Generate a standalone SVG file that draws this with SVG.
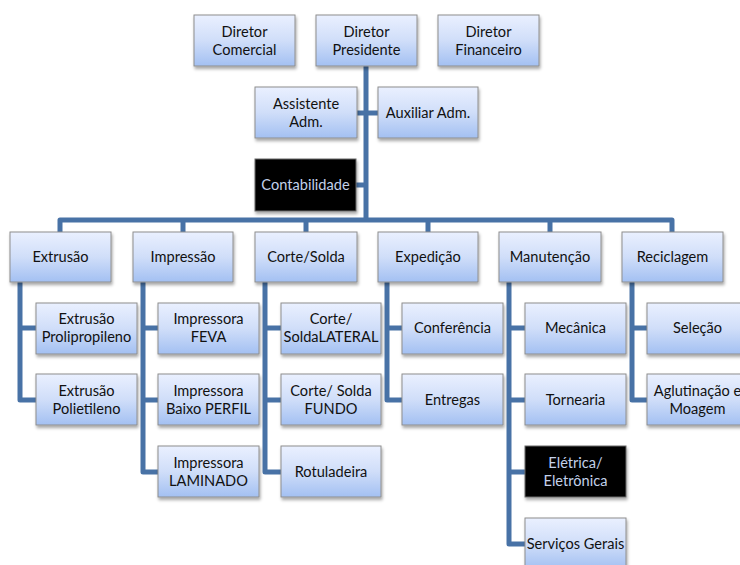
<svg xmlns="http://www.w3.org/2000/svg" width="740" height="565" viewBox="0 0 740 565">
<defs>
<linearGradient id="g" x1="0" y1="0" x2="0" y2="1">
<stop offset="0" stop-color="#eaf0ff"/>
<stop offset="0.5" stop-color="#d0def9"/>
<stop offset="1" stop-color="#a3c0f2"/>
</linearGradient>
<filter id="sh" x="-10%" y="-10%" width="130%" height="140%">
<feDropShadow dx="1" dy="2.5" stdDeviation="1.5" flood-color="#000" flood-opacity="0.35"/>
</filter>
<style>
.b{fill:url(#g);stroke:#8e8e8e;stroke-width:1;filter:url(#sh)}
.k{fill:#000;stroke:#6a6a6a;stroke-width:1;filter:url(#sh)}
text{font-family:Lato,"Open Sans","Liberation Sans",sans-serif;font-size:14.6px;text-anchor:middle;fill:#111}
.w{fill:#c3d1ea}
.c{fill:none;stroke:#4872a6;stroke-width:5;stroke-linejoin:round;stroke-linecap:butt}
</style>
</defs>
<rect width="740" height="565" fill="#fff"/>
<g id="connectors" class="c">
<path d="M366,66 V220"/>
<path d="M357,113 H378"/>
<path d="M356,185 H366"/>
<path d="M60,232 V220 H672 V232"/>
<path d="M183,220 V232 M306,220 V232 M428,220 V232 M550,220 V232"/>
<path d="M20,282 V400 H36 M20,328 H36"/>
<path d="M143,282 V472 H158 M143,328 H158 M143,400 H158"/>
<path d="M265,282 V472 H281 M265,328 H281 M265,400 H281"/>
<path d="M387,282 V400 H402 M387,328 H402"/>
<path d="M509,282 V544 H525 M509,328 H525 M509,400 H525 M509,472 H525"/>
<path d="M632,282 V400 H647 M632,328 H647"/>
</g>
<g id="diretor-comercial"><rect class="b" x="194" y="15" width="101" height="51"/><text x="244.5" y="37">Diretor</text><text x="244.5" y="55">Comercial</text></g>
<g id="diretor-presidente"><rect class="b" x="316" y="15" width="101" height="51"/><text x="366.5" y="37">Diretor</text><text x="366.5" y="55">Presidente</text></g>
<g id="diretor-financeiro"><rect class="b" x="438" y="15" width="101" height="51"/><text x="488.5" y="37">Diretor</text><text x="488.5" y="55">Financeiro</text></g>
<g id="assistente-adm"><rect class="b" x="255" y="87" width="102" height="51"/><text x="306" y="109">Assistente</text><text x="306" y="127">Adm.</text></g>
<g id="auxiliar-adm"><rect class="b" x="378" y="87" width="100" height="51"/><text x="428" y="118">Auxiliar Adm.</text></g>
<g id="contabilidade"><rect class="k" x="255" y="159" width="101" height="52"/><text class="w" x="305.5" y="190">Contabilidade</text></g>
<g id="extrusao"><rect class="b" x="10" y="232" width="101" height="50"/><text x="60.5" y="262">Extrusão</text></g>
<g id="impressao"><rect class="b" x="133" y="232" width="100" height="50"/><text x="183" y="262">Impressão</text></g>
<g id="corte-solda"><rect class="b" x="255" y="232" width="102" height="50"/><text x="306" y="262">Corte/Solda</text></g>
<g id="expedicao"><rect class="b" x="378" y="232" width="100" height="50"/><text x="428" y="262">Expedição</text></g>
<g id="manutencao"><rect class="b" x="499" y="232" width="102" height="50"/><text x="550" y="262">Manutenção</text></g>
<g id="reciclagem"><rect class="b" x="622" y="232" width="101" height="50"/><text x="672.5" y="262">Reciclagem</text></g>
<g id="extrusao-prolipropileno"><rect class="b" x="36" y="303" width="101" height="51"/><text x="86.5" y="324">Extrusão</text><text x="86.5" y="342">Prolipropileno</text></g>
<g id="extrusao-polietileno"><rect class="b" x="36" y="374" width="101" height="51"/><text x="86.5" y="396">Extrusão</text><text x="86.5" y="414">Polietileno</text></g>
<g id="impressora-feva"><rect class="b" x="158" y="303" width="101" height="51"/><text x="208.5" y="324">Impressora</text><text x="208.5" y="342">FEVA</text></g>
<g id="impressora-baixo-perfil"><rect class="b" x="158" y="374" width="101" height="51"/><text x="208.5" y="396">Impressora</text><text x="208.5" y="414">Baixo PERFIL</text></g>
<g id="impressora-laminado"><rect class="b" x="158" y="446" width="101" height="51"/><text x="208.5" y="468">Impressora</text><text x="208.5" y="486">LAMINADO</text></g>
<g id="corte-solda-lateral"><rect class="b" x="281" y="303" width="100" height="51"/><text x="331" y="324">Corte/</text><text x="331" y="342">SoldaLATERAL</text></g>
<g id="corte-solda-fundo"><rect class="b" x="281" y="374" width="100" height="51"/><text x="331" y="396">Corte/ Solda</text><text x="331" y="414">FUNDO</text></g>
<g id="rotuladeira"><rect class="b" x="281" y="446" width="100" height="51"/><text x="331" y="477">Rotuladeira</text></g>
<g id="conferencia"><rect class="b" x="402" y="303" width="101" height="51"/><text x="452.5" y="333">Conferência</text></g>
<g id="entregas"><rect class="b" x="402" y="374" width="101" height="51"/><text x="452.5" y="405">Entregas</text></g>
<g id="mecanica"><rect class="b" x="525" y="303" width="101" height="51"/><text x="575.5" y="333">Mecânica</text></g>
<g id="tornearia"><rect class="b" x="525" y="374" width="101" height="51"/><text x="575.5" y="405">Tornearia</text></g>
<g id="eletrica-eletronica"><rect class="k" x="525" y="446" width="101" height="51"/><text class="w" x="575.5" y="468">Elétrica/</text><text class="w" x="575.5" y="486">Eletrônica</text></g>
<g id="servicos-gerais"><rect class="b" x="525" y="518" width="101" height="51"/><text x="575.5" y="549">Serviços Gerais</text></g>
<g id="selecao"><rect class="b" x="647" y="303" width="101" height="51"/><text x="697.5" y="333">Seleção</text></g>
<g id="aglutinacao-moagem"><rect class="b" x="647" y="374" width="101" height="51"/><text x="697.5" y="396">Aglutinação e</text><text x="697.5" y="414">Moagem</text></g>
</svg>
